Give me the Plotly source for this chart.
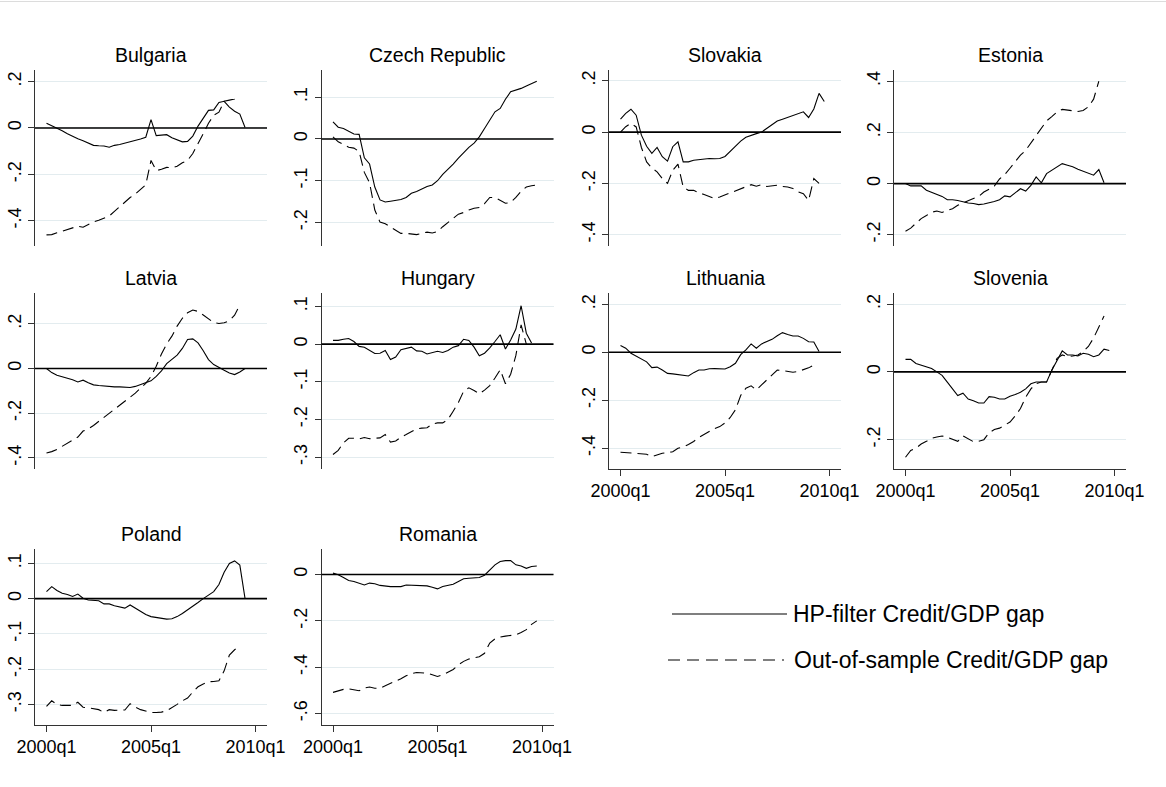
import plotly.graph_objects as go

# ---------------- data (quarterly, starting 2000q1) ----------------
countries = ["Bulgaria", "Czech Republic", "Slovakia", "Estonia", "Latvia",
             "Hungary", "Lithuania", "Slovenia", "Poland", "Romania"]

x_tick_vals = [0, 20, 40]
x_tick_text = ["2000q1", "2005q1", "2010q1"]

bulgaria_hp = [0.02, 0.01, 0.0, -0.012, -0.025, -0.037, -0.047, -0.055, -0.065, -0.075,
               -0.077, -0.078, -0.083, -0.075, -0.071, -0.066, -0.06, -0.055, -0.048, -0.04,
               0.036, -0.033, -0.032, -0.029, -0.042, -0.05, -0.06, -0.058, -0.035, 0.008,
               0.04, 0.076, 0.078, 0.11, 0.115, 0.09, 0.072, 0.06, 0.002]
bulgaria_oos = [-0.461, -0.46, -0.452, -0.445, -0.44, -0.432, -0.424, -0.428, -0.415, -0.405,
                -0.398, -0.39, -0.38, -0.36, -0.34, -0.322, -0.30, -0.285, -0.265, -0.245,
                -0.14, -0.184, -0.178, -0.17, -0.172, -0.165, -0.15, -0.14, -0.11, -0.07,
                -0.025, 0.02, 0.055, 0.068, 0.115, 0.12, 0.125, 0.135]

czech_hp = [0.041, 0.028, 0.025, 0.018, 0.012, 0.011, -0.045, -0.06, -0.115, -0.146,
            -0.151, -0.149, -0.147, -0.145, -0.14, -0.13, -0.126, -0.12, -0.114, -0.11,
            -0.1, -0.085, -0.073, -0.06, -0.046, -0.032, -0.02, -0.01, 0.005, 0.025,
            0.045, 0.065, 0.073, 0.095, 0.113, 0.117, 0.121, 0.127, 0.132, 0.138]
czech_oos = [0.005, -0.007, -0.013, -0.02, -0.022, -0.03, -0.08, -0.105, -0.17, -0.199,
             -0.203, -0.21, -0.218, -0.226, -0.226, -0.227, -0.229, -0.226, -0.223, -0.225,
             -0.222, -0.21, -0.2, -0.19, -0.18, -0.176, -0.17, -0.166, -0.164, -0.155,
             -0.14, -0.14, -0.148, -0.154, -0.152, -0.14, -0.125, -0.115, -0.112, -0.11]

slovakia_hp = [0.051, 0.073, 0.089, 0.066, -0.012, -0.055, -0.083, -0.06, -0.096, -0.113,
               -0.057, -0.038, -0.116, -0.116, -0.11, -0.107, -0.105, -0.103, -0.104, -0.103,
               -0.095, -0.075, -0.057, -0.035, -0.02, -0.012, -0.006, 0.0, 0.015, 0.03,
               0.043, 0.05, 0.057, 0.065, 0.072, 0.079, 0.057, 0.09, 0.151, 0.119]
slovakia_oos = [0.0, 0.021, 0.034, 0.02, -0.06, -0.116, -0.14, -0.155, -0.181, -0.2,
                -0.149, -0.125, -0.214, -0.227, -0.227, -0.237, -0.243, -0.25, -0.259, -0.253,
                -0.245, -0.235, -0.228, -0.22, -0.212, -0.205, -0.211, -0.205, -0.212, -0.21,
                -0.207, -0.212, -0.214, -0.22, -0.233, -0.24, -0.266, -0.181, -0.2]

estonia_hp = [0.0, -0.009, -0.009, -0.009, -0.026, -0.034, -0.042, -0.05, -0.063, -0.063,
              -0.066, -0.072, -0.076, -0.078, -0.082, -0.08, -0.076, -0.07, -0.063, -0.048,
              -0.052, -0.035, -0.02, -0.029, -0.007, 0.026, 0.003, 0.039, 0.052, 0.068,
              0.078, 0.072, 0.066, 0.056, 0.048, 0.038, 0.033, 0.055, 0.003]
estonia_oos = [-0.186, -0.174, -0.155, -0.137, -0.125, -0.112, -0.107, -0.113, -0.105, -0.098,
               -0.085, -0.075, -0.065, -0.058, -0.05, -0.033, -0.022, -0.01, 0.018, 0.035,
               0.06, 0.085, 0.111, 0.13, 0.16, 0.19, 0.22, 0.245, 0.262, 0.28,
               0.29, 0.287, 0.283, 0.282, 0.286, 0.3, 0.33, 0.4]

latvia_hp = [0.0, -0.018, -0.03, -0.037, -0.042, -0.05, -0.06, -0.052, -0.064, -0.073,
             -0.076, -0.078, -0.082, -0.082, -0.082, -0.084, -0.085, -0.08, -0.072, -0.065,
             -0.055, -0.035, -0.01, 0.022, 0.04, 0.06, 0.09, 0.13, 0.133, 0.115,
             0.08, 0.04, 0.018, 0.004, -0.008, -0.02, -0.027, -0.015, 0.0]
latvia_oos = [-0.378, -0.372, -0.362, -0.348, -0.335, -0.322, -0.307, -0.28, -0.27, -0.255,
              -0.237, -0.22, -0.2, -0.183, -0.165, -0.148, -0.13, -0.11, -0.088, -0.066,
              -0.035, 0.01, 0.065, 0.11, 0.145, 0.19, 0.225, 0.25, 0.262, 0.256,
              0.24, 0.222, 0.206, 0.202, 0.205, 0.214, 0.239, 0.284]

hungary_hp = [0.01, 0.01, 0.013, 0.015, 0.007, -0.006, -0.008, -0.017, -0.025, -0.024,
              -0.017, -0.041, -0.034, -0.015, -0.011, -0.008, -0.018, -0.019, -0.026, -0.022,
              -0.019, -0.022, -0.017, -0.008, -0.004, 0.013, 0.01, -0.008, -0.031, -0.024,
              -0.01, 0.007, 0.025, -0.013, 0.011, 0.04, 0.102, 0.029, 0.003]
hungary_oos = [-0.293, -0.282, -0.262, -0.25, -0.25, -0.252, -0.248, -0.251, -0.25, -0.249,
               -0.24, -0.26, -0.257, -0.247, -0.24, -0.232, -0.225, -0.223, -0.222, -0.212,
               -0.209, -0.209, -0.2, -0.178, -0.155, -0.125, -0.116, -0.123, -0.132, -0.122,
               -0.11, -0.09, -0.068, -0.105, -0.08, -0.03, 0.051, 0.0]

lithuania_hp = [0.028, 0.017, -0.004, -0.017, -0.028, -0.04, -0.064, -0.062, -0.074, -0.088,
                -0.09, -0.092, -0.096, -0.099, -0.085, -0.074, -0.074, -0.069, -0.068, -0.07,
                -0.07, -0.06, -0.046, -0.01, 0.01, 0.035, 0.017, 0.035, 0.044, 0.054,
                0.069, 0.082, 0.074, 0.068, 0.068, 0.058, 0.044, 0.043, 0.003]
lithuania_oos = [-0.417, -0.418, -0.42, -0.421, -0.421, -0.425, -0.435, -0.428, -0.421, -0.418,
                 -0.415, -0.4, -0.395, -0.385, -0.372, -0.355, -0.342, -0.33, -0.318, -0.31,
                 -0.295, -0.272, -0.24, -0.18, -0.15, -0.14, -0.157, -0.136, -0.115, -0.094,
                 -0.074, -0.076, -0.08, -0.083, -0.08, -0.074, -0.065, -0.053]

slovenia_hp = [0.037, 0.037, 0.025, 0.02, 0.014, 0.01, 0.0, -0.01, -0.03, -0.05,
               -0.07, -0.063, -0.08, -0.085, -0.092, -0.092, -0.073, -0.075, -0.08, -0.08,
               -0.072, -0.067, -0.06, -0.05, -0.035, -0.03, -0.03, -0.03, 0.005, 0.035,
               0.062, 0.05, 0.05, 0.047, 0.055, 0.052, 0.045, 0.05, 0.067, 0.063]
slovenia_oos = [-0.252, -0.232, -0.225, -0.213, -0.205, -0.196, -0.192, -0.189, -0.193, -0.2,
                -0.205, -0.189, -0.198, -0.206, -0.205, -0.2, -0.18, -0.17, -0.166, -0.158,
                -0.148, -0.13, -0.108, -0.075, -0.05, -0.035, -0.03, -0.03, 0.005, 0.04,
                0.05, 0.045, 0.047, 0.05, 0.06, 0.075, 0.1, 0.135, 0.165]

poland_hp = [0.02, 0.034, 0.023, 0.015, 0.012, 0.006, 0.013, 0.001, -0.004, -0.004,
             -0.006, -0.015, -0.015, -0.02, -0.023, -0.027, -0.018, -0.027, -0.035, -0.045,
             -0.051, -0.054, -0.057, -0.058, -0.057, -0.051, -0.042, -0.032, -0.023, -0.011,
             0.0, 0.01, 0.02, 0.04, 0.075, 0.1, 0.107, 0.095, 0.0]
poland_oos = [-0.306, -0.29, -0.3, -0.303, -0.303, -0.303, -0.294, -0.308, -0.31, -0.313,
              -0.315, -0.323, -0.315, -0.317, -0.317, -0.316, -0.298, -0.308, -0.315, -0.32,
              -0.323, -0.323, -0.322, -0.318, -0.31, -0.3, -0.29, -0.282, -0.265, -0.25,
              -0.242, -0.236, -0.235, -0.233, -0.205, -0.16, -0.145, -0.136]

romania_hp = [0.006, -0.001, -0.013, -0.026, -0.03, -0.037, -0.045, -0.037, -0.04, -0.047,
              -0.051, -0.052, -0.052, -0.052, -0.045, -0.046, -0.046, -0.046, -0.049, -0.055,
              -0.062, -0.052, -0.047, -0.042, -0.03, -0.018, -0.016, -0.015, -0.013, -0.003,
              0.02, 0.042, 0.056, 0.06, 0.06, 0.042, 0.037, 0.027, 0.035, 0.037]
romania_oos = [-0.509, -0.502, -0.496, -0.494, -0.498, -0.502, -0.49, -0.486, -0.491, -0.491,
               -0.48, -0.47, -0.462, -0.45, -0.437, -0.428, -0.423, -0.426, -0.426, -0.433,
               -0.44, -0.433, -0.422, -0.41, -0.39, -0.375, -0.365, -0.361, -0.355, -0.34,
               -0.296, -0.278, -0.27, -0.266, -0.263, -0.26, -0.25, -0.238, -0.215, -0.2]

hp_series = [bulgaria_hp, czech_hp, slovakia_hp, estonia_hp, latvia_hp,
             hungary_hp, lithuania_hp, slovenia_hp, poland_hp, romania_hp]
oos_series = [bulgaria_oos, czech_oos, slovakia_oos, estonia_oos, latvia_oos,
              hungary_oos, lithuania_oos, slovenia_oos, poland_oos, romania_oos]

y_ticks = [[-0.4, -0.2, 0, 0.2], [-0.2, -0.1, 0, 0.1], [-0.4, -0.2, 0, 0.2],
           [-0.2, 0, 0.2, 0.4], [-0.4, -0.2, 0, 0.2], [-0.3, -0.2, -0.1, 0, 0.1],
           [-0.4, -0.2, 0, 0.2], [-0.2, 0, 0.2], [-0.3, -0.2, -0.1, 0, 0.1],
           [-0.6, -0.4, -0.2, 0]]
y_ranges = [[-0.507, 0.25], [-0.255, 0.165], [-0.442, 0.242], [-0.242, 0.444],
            [-0.449, 0.337], [-0.331, 0.135], [-0.486, 0.246], [-0.286, 0.232],
            [-0.358, 0.14], [-0.649, 0.109]]

legend_labels = ["HP-filter Credit/GDP gap", "Out-of-sample Credit/GDP gap"]

# ---------------- layout helpers ----------------
W, H = 1166, 787
FONT = "Liberation Sans, Arial, Helvetica, sans-serif"
col_left = [35, 321.5, 609, 894]
row_top = [70, 293.3, 549.3]
PW, PH = 232, 175.5
positions = [(0, 0), (0, 1), (0, 2), (0, 3),
             (1, 0), (1, 1), (1, 2), (1, 3),
             (2, 0), (2, 1)]
bottom_row = {6, 7, 8, 9}


def fmt(v):
    if v == 0:
        return "0"
    s = ("%g" % v)
    return s.replace("0.", ".")


fig = go.Figure()
shapes = []
annotations = []
layout = dict(
    width=W, height=H,
    margin=dict(l=0, r=0, t=0, b=0, pad=0),
    paper_bgcolor="white", plot_bgcolor="white",
    showlegend=False,
    font=dict(family=FONT, color="black"),
)

for i, name in enumerate(countries):
    n = i + 1
    r, c = positions[i]
    left = col_left[c]
    top = row_top[r]
    xs = "" if n == 1 else str(n)
    xdom = [left / W, (left + PW) / W]
    ydom = [1 - (top + PH) / H, 1 - top / H]

    hp = hp_series[i]
    oos = oos_series[i]
    fig.add_trace(go.Scatter(x=list(range(len(oos))), y=oos, mode="lines",
                             line=dict(color="black", width=1.1, dash="11px,6px"),
                             xaxis="x" + xs, yaxis="y" + xs, hoverinfo="skip"))
    fig.add_trace(go.Scatter(x=list(range(len(hp))), y=hp, mode="lines",
                             line=dict(color="black", width=1.1),
                             xaxis="x" + xs, yaxis="y" + xs, hoverinfo="skip"))

    is_bottom = i in bottom_row
    layout["xaxis" + xs] = dict(
        domain=xdom, anchor="y" + xs, range=[-2.2, 42.2],
        automargin=False,
        showgrid=False, zeroline=False,
        showline=is_bottom, linecolor="#333333", linewidth=1,
        ticks="outside" if is_bottom else "", ticklen=6, tickcolor="#333333",
        tickvals=x_tick_vals if is_bottom else [],
        ticktext=x_tick_text if is_bottom else [],
        showticklabels=is_bottom,
        tickfont=dict(size=18, family=FONT, color="black"),
        fixedrange=True,
    )
    layout["yaxis" + xs] = dict(
        domain=ydom, anchor="x" + xs, range=y_ranges[i],
        automargin=False,
        showgrid=True, gridcolor="#e3ecef", gridwidth=1,
        zeroline=False, showline=True, linecolor="#333333", linewidth=1,
        ticks="outside", ticklen=6, tickcolor="#333333",
        tickvals=y_ticks[i], ticktext=[fmt(v) for v in y_ticks[i]],
        tickangle=-90, tickfont=dict(size=18, family=FONT, color="black"),
        fixedrange=True,
    )
    shapes.append(dict(type="line", xref="x%s domain" % xs, yref="y" + xs,
                       x0=0, x1=1, y0=0, y1=0,
                       line=dict(color="black", width=1.6), layer="above"))
    annotations.append(dict(text=name, xref="paper", yref="paper",
                            x=(left + PW / 2) / W, y=1 - (top - 15) / H,
                            xanchor="center", yanchor="middle", showarrow=False,
                            font=dict(size=19.5, family=FONT, color="black")))

# thin border line at the top of the page
shapes.append(dict(type="line", xref="paper", yref="paper", x0=0, x1=1,
                   y0=1 - 1.5 / H, y1=1 - 1.5 / H,
                   line=dict(color="#dcdcdc", width=1)))

# legend (drawn manually, Stata style)
leg = [(672, 787, 614, "solid", 791), (668, 784, 660, "12px,7px", 792)]
for (x0, x1, yy, dash, tx), lab in zip(leg, legend_labels):
    shapes.append(dict(type="line", xref="paper", yref="paper",
                       x0=x0 / W, x1=x1 / W, y0=1 - yy / H, y1=1 - yy / H,
                       line=dict(color="black", width=1.1, dash=dash)))
    annotations.append(dict(text=lab, xref="paper", yref="paper",
                            x=tx / W, y=1 - yy / H, xanchor="left", yanchor="middle",
                            showarrow=False,
                            font=dict(size=23, family=FONT, color="black")))

layout["shapes"] = shapes
layout["annotations"] = annotations
fig.update_layout(**layout)
fig.write_html("out.html",
               config={"displayModeBar": False, "staticPlot": True},
               post_script="document.body.style.margin='0px';document.body.style.padding='0px';")
